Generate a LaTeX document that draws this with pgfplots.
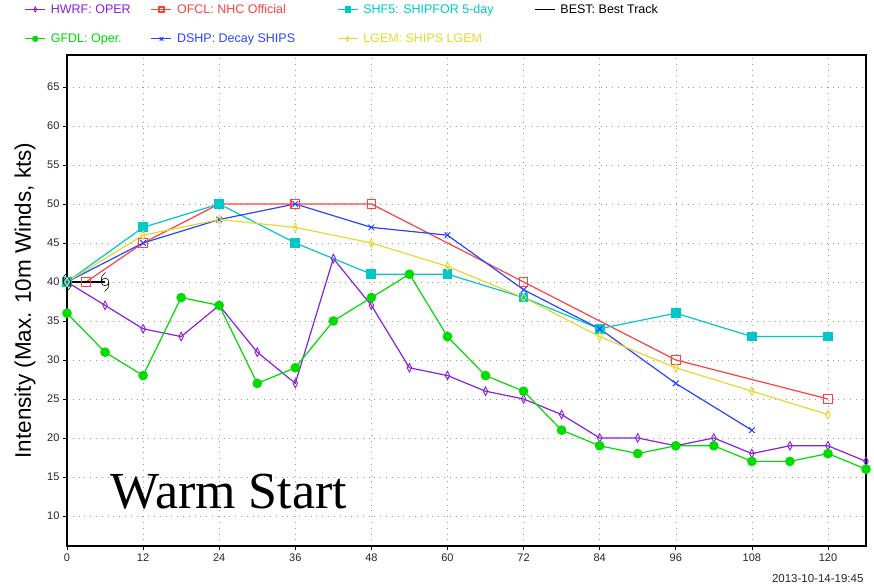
\documentclass[border=0pt]{standalone}
\usepackage{fontspec}
\usepackage{pgfplots}
\pgfplotsset{compat=1.18}
\newfontfamily\sans{Liberation Sans}
\newfontfamily\serifb{Liberation Serif}
\definecolor{hwrf}{RGB}{140,30,220}
\definecolor{ofcl}{RGB}{255,64,64}
\definecolor{shf5}{RGB}{0,200,200}
\definecolor{gfdl}{RGB}{0,220,0}
\definecolor{dshp}{RGB}{40,70,255}
\definecolor{lgem}{RGB}{230,215,50}
\pgfdeclareplotmark{tsym}{%
  \pgfpathcircle{\pgfpointorigin}{3.8pt}%
  \pgfpathmoveto{\pgfqpoint{-3.8pt}{0pt}}%
  \pgfpathcurveto{\pgfqpoint{-4.2pt}{5pt}}{\pgfqpoint{-2.5pt}{8pt}}{\pgfqpoint{0.5pt}{9.5pt}}%
  \pgfpathmoveto{\pgfqpoint{3.8pt}{0pt}}%
  \pgfpathcurveto{\pgfqpoint{4.2pt}{-5pt}}{\pgfqpoint{2.5pt}{-8pt}}{\pgfqpoint{-0.5pt}{-9.5pt}}%
  \pgfusepathqstroke}
\begin{document}
\begin{tikzpicture}
\path[use as bounding box] (-67pt,-41pt) rectangle (807pt,546pt);
\begin{axis}[
  scale only axis, width=799pt, height=491pt,
  xmin=0, xmax=126, ymin=6.15, ymax=69.1,
  xtick={0,12,...,120}, ytick={10,15,...,65},
  grid=major, major grid style={black!40, line width=0.5pt, dash pattern=on 0.8pt off 5pt},
  axis line style={line width=1.6pt},
  tick align=outside, tick pos=left, major tick length=4pt,
  tick style={black, line width=0.6pt},
  ticklabel style={font=\sans\fontsize{11}{11}\selectfont, text=black!85},
  /pgf/number format/assume math mode=true,
  ylabel={Intensity (Max. 10m Winds, kts)},
  ylabel style={font=\sans\fontsize{22.5}{22.5}\selectfont, at={(axis description cs:-0.0525,0.5)}, anchor=center},
  legend columns=4,
  legend style={at={(axis description cs:-0.057,1.110)}, anchor=north west, draw=none, fill=none,
    font=\sans\fontsize{12.5}{13}\selectfont, row sep=17pt, column sep=0pt,
    nodes={inner sep=1pt}, cells={anchor=west},
    /tikz/every odd column/.append style={column sep=4pt}},
  legend image code/.code={\draw[mark repeat=2,mark phase=2,mark size=2.5pt] plot coordinates {(0pt,0pt)(10pt,0pt)(20pt,0pt)};},
  every axis plot/.append style={line width=1.2pt},
]
% HWRF
\addplot[color=hwrf, mark=diamond, mark size=4.3pt, mark options={xscale=0.7, line width=0.9pt}] coordinates {
(0,40)(6,37)(12,34)(18,33)(24,37)(30,31)(36,27)(42,43)(48,37)(54,29)(60,28)(66,26)(72,25)(78,23)(84,20)(90,20)(96,19)(102,20)(108,18)(114,19)(120,19)(126,17)};
\addlegendentry{\makebox[99pt][l]{\textcolor{hwrf}{HWRF: OPER}}}
% OFCL
\addplot[color=ofcl, mark=square, mark size=4.3pt, mark options={line width=1.1pt}] coordinates {
(0,40)(3,40)(12,45)(24,50)(36,50)(48,50)(72,40)(96,30)(120,25)};
\addlegendentry{\makebox[159pt][l]{\textcolor{ofcl}{OFCL: NHC Official}}}
% SHF5
\addplot[color=shf5, mark=square*, mark size=4.3pt] coordinates {
(0,40)(12,47)(24,50)(36,45)(48,41)(60,41)(72,38)(84,34)(96,36)(108,33)(120,33)};
\addlegendentry{\makebox[170pt][l]{\textcolor{shf5}{SHF5: SHIPFOR 5-day}}}
% BEST
\addplot[color=black, mark=tsym, mark options={line width=0.6pt},
  legend image code/.code={\draw[black,line width=1.2pt] (0pt,0pt)--(20pt,0pt);}] coordinates {(0,40)(6,40)};
\addlegendentry{\textcolor{black}{BEST: Best Track}}
% GFDL
\addplot[color=gfdl, mark=*, mark size=4.2pt] coordinates {
(0,36)(6,31)(12,28)(18,38)(24,37)(30,27)(36,29)(42,35)(48,38)(54,41)(60,33)(66,28)(72,26)(78,21)(84,19)(90,18)(96,19)(102,19)(108,17)(114,17)(120,18)(126,16)};
\addlegendentry{\makebox[99pt][l]{\textcolor{gfdl}{GFDL: Oper.}}}
% DSHP
\addplot[color=dshp, mark=x, mark size=4pt, mark options={line width=1pt}] coordinates {
(0,40)(12,45)(24,48)(36,50)(48,47)(60,46)(72,39)(84,34)(96,27)(108,21)};
\addlegendentry{\makebox[159pt][l]{\textcolor{dshp}{DSHP: Decay SHIPS}}}
% LGEM
\addplot[color=lgem, mark=diamond, mark size=4.3pt, mark options={xscale=0.7, line width=0.9pt}] coordinates {
(0,40)(12,46)(24,48)(36,47)(48,45)(60,42)(72,38)(84,33)(96,29)(108,26)(120,23)};
\addlegendentry{\makebox[170pt][l]{\textcolor{lgem}{LGEM: SHIPS LGEM}}}
\node[font=\serifb\fontsize{52}{52}\selectfont] at (axis cs:25.5,13.1) {Warm Start};
\end{axis}
\node[anchor=east, font=\sans\fontsize{11.5}{12}\selectfont, text=black!85] at (800pt,-33pt) {2013-10-14-19:45};
\end{tikzpicture}
\end{document}
